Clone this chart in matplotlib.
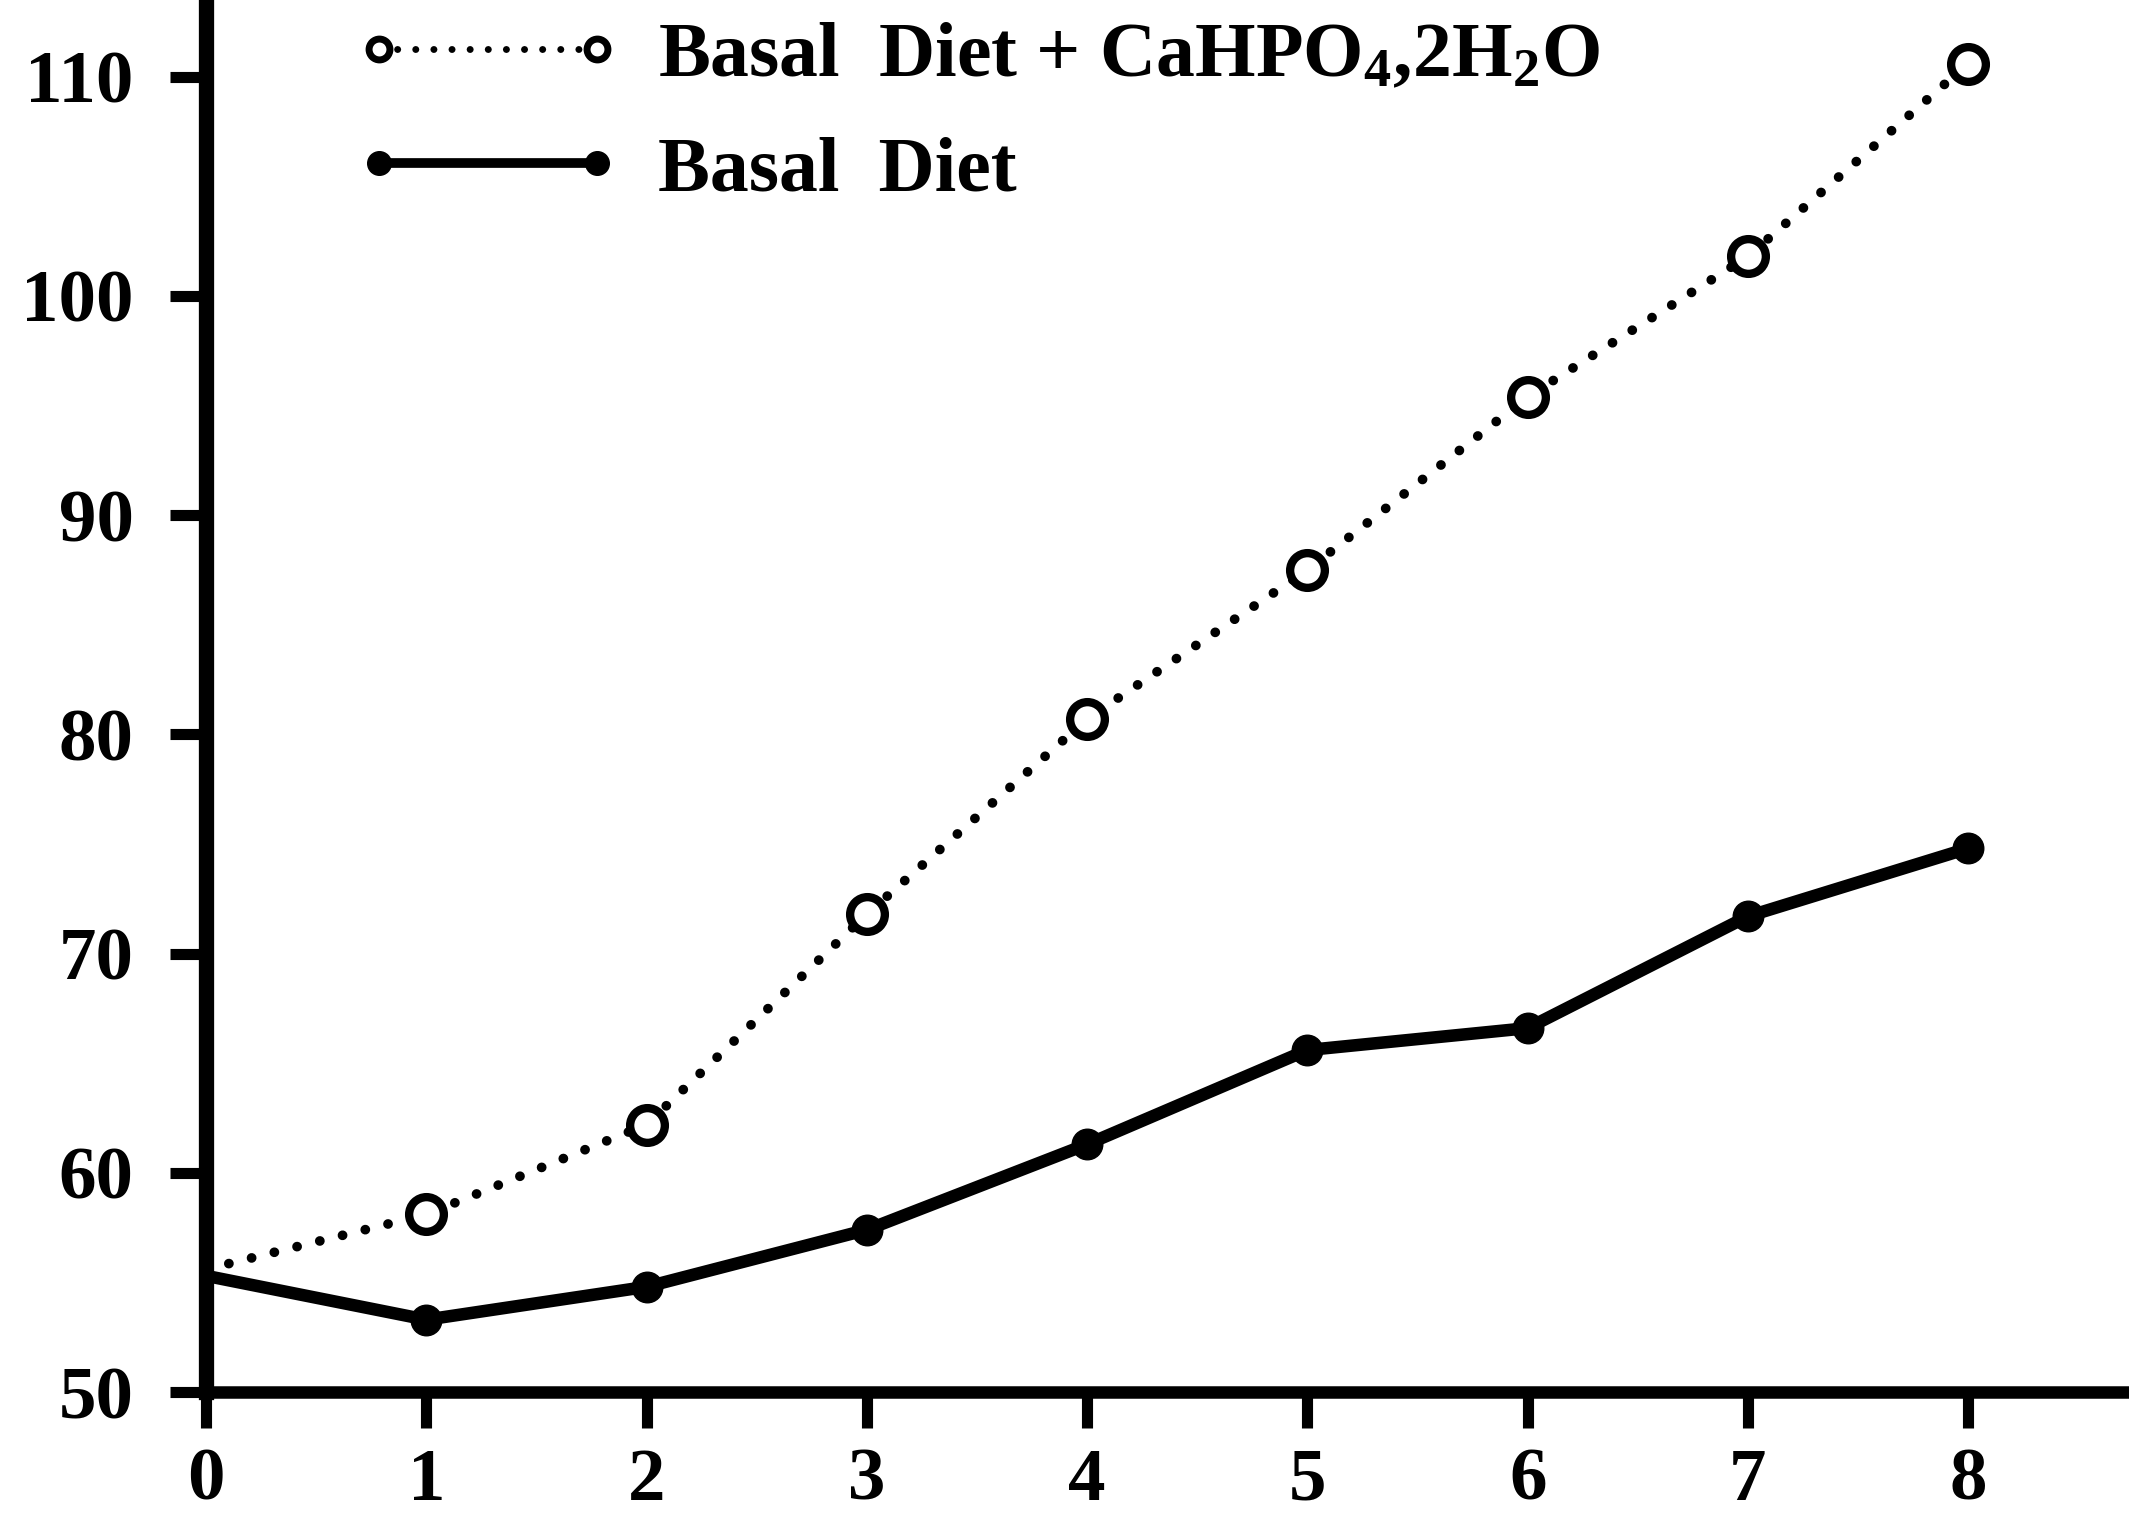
import matplotlib
matplotlib.use("Agg")
import matplotlib.pyplot as plt
from matplotlib.lines import Line2D

plt.rcParams['font.family'] = ['Liberation Serif', 'DejaVu Serif']
plt.rcParams['font.weight'] = 'bold'
plt.rcParams['mathtext.default'] = 'regular'

weeks = [0, 1, 2, 3, 4, 5, 6, 7, 8]
ca_diet = [55.6, 58.1, 62.2, 71.8, 80.7, 87.5, 95.4, 101.8, 110.6]
basal_diet = [55.3, 53.3, 54.8, 57.4, 61.3, 65.6, 66.6, 71.7, 74.8]
xticks = [0, 1, 2, 3, 4, 5, 6, 7, 8]
yticks = [50, 60, 70, 80, 90, 100, 110]
label_ca = 'Basal  Diet + CaHPO$_4$,2H$_2$O'
label_basal = 'Basal  Diet'

fig = plt.figure(figsize=(21.29, 15.23), dpi=100)
ax = fig.add_axes([0.0968, 0.086, 0.9032, 0.914])

ax.plot(weeks, ca_diet, color='black', lw=7, linestyle=(0, (0.01, 2.4)),
        dash_capstyle='round', marker='o', markersize=25, markerfacecolor='white',
        markeredgecolor='black', markeredgewidth=6, markevery=list(range(1, 9)))
ax.plot(weeks, basal_diet, color='black', lw=9, solid_capstyle='round',
        solid_joinstyle='round',
        marker='o', markersize=22, markerfacecolor='black', markeredgecolor='black',
        markevery=list(range(1, 9)))

ax.set_xlim(0, 8.73)
ax.set_ylim(50, 113.5)
ax.set_xticks(xticks)
ax.set_yticks(yticks)
ax.set_xticklabels([str(v) for v in xticks])
ax.set_yticklabels([str(v) for v in yticks])

for s in ['top', 'right']:
    ax.spines[s].set_visible(False)
ax.spines['left'].set_linewidth(11)
ax.spines['bottom'].set_linewidth(9)
ax.tick_params(axis='y', direction='out', length=26, width=8, pad=26, labelsize=54)
ax.tick_params(axis='x', direction='out', length=26, width=8, pad=14, labelsize=54)
for lab in ax.get_xticklabels() + ax.get_yticklabels():
    lab.set_fontweight('bold')

handles = [
    Line2D([], [], color='black', lw=5, linestyle=(0, (0.01, 2.6)), dash_capstyle='round',
           marker='o', markersize=15, markerfacecolor='white', markeredgecolor='black',
           markeredgewidth=5),
    Line2D([], [], color='black', lw=7, marker='o', markersize=17,
           markerfacecolor='black', markeredgecolor='black'),
]
leg = ax.legend(handles, [label_ca, label_basal], loc='upper left',
                bbox_to_anchor=(0.074, 0.99), borderaxespad=0, borderpad=0.1,
                frameon=False, numpoints=2, handlelength=3.4, handletextpad=0.48,
                labelspacing=0.55, prop={'family': 'Liberation Serif', 'weight': 'bold', 'size': 56})

fig.savefig('out.png', dpi=100)
